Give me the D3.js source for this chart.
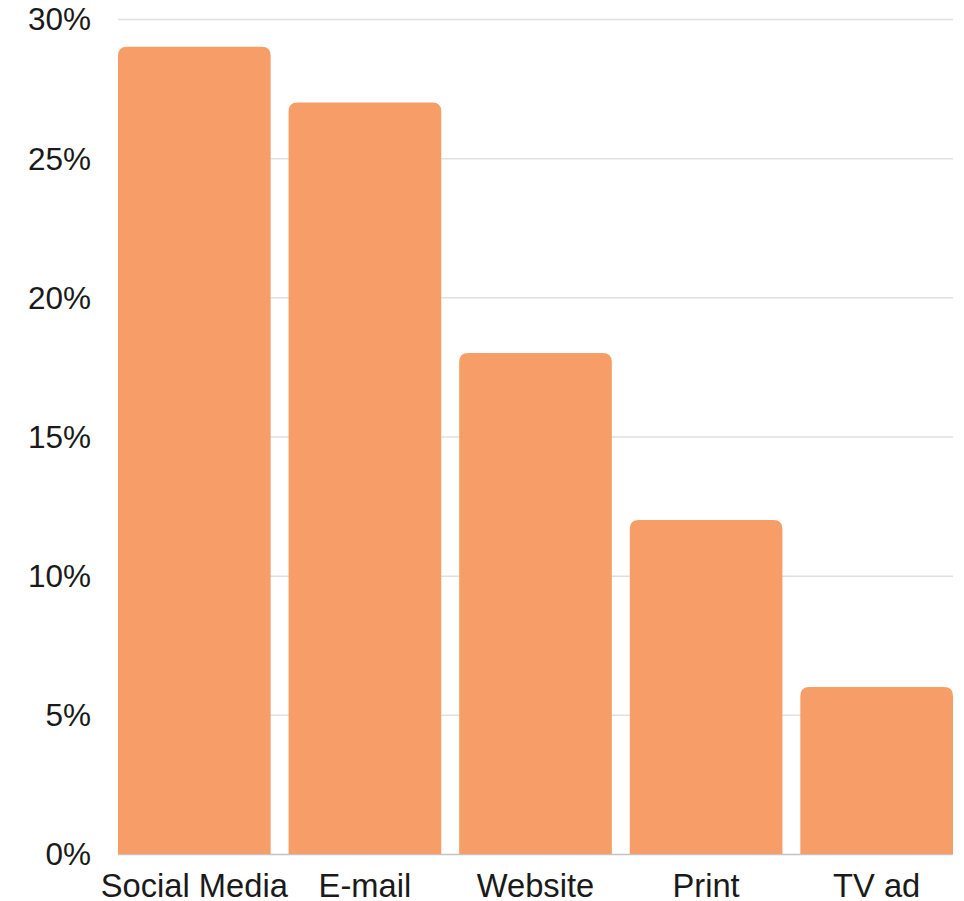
<!DOCTYPE html>
<html>
<head>
<meta charset="utf-8">
<script src="https://cdn.jsdelivr.net/npm/d3@7"></script>
<style>
  html, body { margin: 0; padding: 0; background: #fff; }
  svg { display: block; }
  text { font-family: "Liberation Sans", Arial, sans-serif; fill: #1a1a1a; }
</style>
</head>
<body>
<svg id="chart" width="964" height="901"></svg>
<script>
// Share of responses by marketing channel
const channels = ["Social Media", "E-mail", "Website", "Print", "TV ad"];
const shares = [29, 27, 18, 12, 6];
const yTicks = [0, 5, 10, 15, 20, 25, 30];

(function () {
  const svg = d3.select("#chart");
  const plotLeft = 118, plotRight = 953, plotTop = 19, plotBottom = 854;

  const x = d3.scaleBand()
    .domain(channels)
    .range([plotLeft, plotRight])
    .paddingInner(0.105)
    .paddingOuter(0);

  const y = d3.scaleLinear()
    .domain([0, 30])
    .range([plotBottom, plotTop]);

  // Horizontal gridlines
  svg.append("g")
    .selectAll("line")
    .data(yTicks)
    .join("line")
    .attr("x1", plotLeft)
    .attr("x2", plotRight)
    .attr("y1", d => y(d) + 0.5)
    .attr("y2", d => y(d) + 0.5)
    .attr("stroke", d => d === 0 ? "#c4c4c4" : "#e0e0e0")
    .attr("stroke-width", 1.5);

  // Y tick labels
  svg.append("g")
    .selectAll("text")
    .data(yTicks)
    .join("text")
    .attr("x", 91)
    .attr("y", d => y(d))
    .attr("dy", "0.36em")
    .attr("text-anchor", "end")
    .style("font-size", "31.5px")
    .text(d => d + "%");

  // Bars with rounded top corners
  const r = 9;
  function barPath(x0, w, yTop, yBase) {
    const rr = Math.min(r, w / 2, yBase - yTop);
    return `M${x0},${yBase}` +
      `V${yTop + rr}` +
      `Q${x0},${yTop} ${x0 + rr},${yTop}` +
      `H${x0 + w - rr}` +
      `Q${x0 + w},${yTop} ${x0 + w},${yTop + rr}` +
      `V${yBase}Z`;
  }

  svg.append("g")
    .selectAll("path")
    .data(channels.map((c, i) => ({ c, v: shares[i] })))
    .join("path")
    .attr("d", d => barPath(x(d.c), x.bandwidth(), y(d.v), y(0)))
    .attr("fill", "#f79e68");

  // X category labels
  svg.append("g")
    .selectAll("text")
    .data(channels)
    .join("text")
    .attr("x", d => x(d) + x.bandwidth() / 2)
    .attr("y", 896.5)
    .attr("text-anchor", "middle")
    .style("font-size", "32.7px")
    .text(d => d);
})();
</script>
</body>
</html>
